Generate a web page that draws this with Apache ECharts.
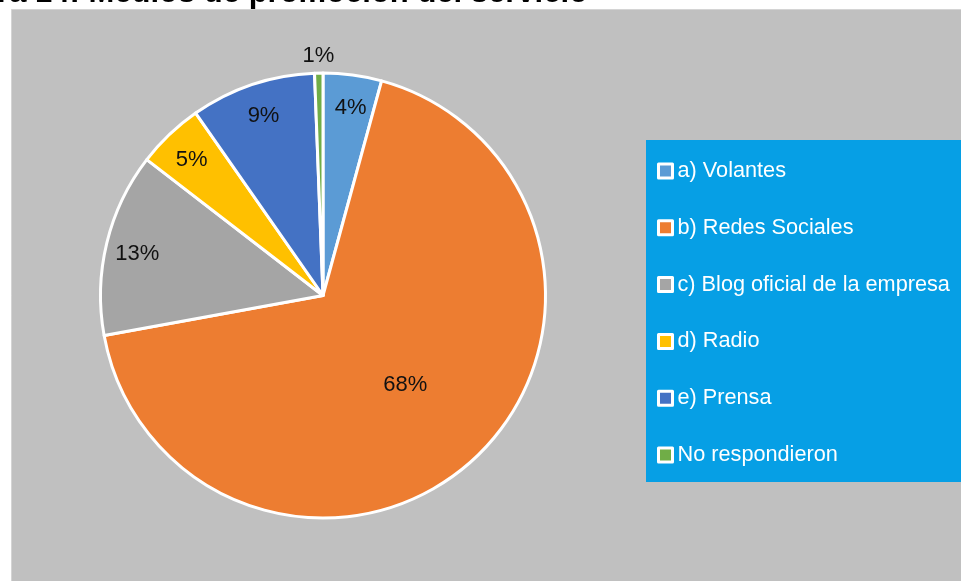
<!DOCTYPE html>
<html>
<head>
<meta charset="utf-8">
<title>Medios de promoción del servicio</title>
<script src="https://cdn.jsdelivr.net/npm/echarts@6/dist/echarts.min.js"></script>
<style>
  html, body { margin: 0; padding: 0; background: #ffffff; }
  #chart { width: 961px; height: 581px; }
</style>
</head>
<body>
<div id="chart"></div>
<script>
// Respuestas por medio de promoción (número de encuestados)
const categories = [
  'a) Volantes',
  'b) Redes Sociales',
  'c) Blog oficial de la empresa',
  'd) Radio',
  'e) Prensa',
  'No respondieron'
];
const responses = [7, 112, 22, 8, 15, 1];
const sliceColors = ['#5b9bd5', '#ed7d31', '#a5a5a5', '#ffc000', '#4472c4', '#70ad47'];
const titleText = 'Figura 14: Medios de promoción del servicio';

const FONT = "'Liberation Sans', Arial, sans-serif";
const CENTER = [323, 295.5];
const R = 222.5;

const pieData = categories.map((name, i) => ({ name, value: responses[i] }));

// Transparent ring that only carries percentage labels at its mid radius
function labelRing(inner, outer, keep, nudge) {
  return {
    type: 'pie',
    silent: true,
    center: CENTER,
    radius: [inner, outer],
    startAngle: 90,
    percentPrecision: 0,
    avoidLabelOverlap: false,
    itemStyle: { color: 'transparent', borderWidth: 0 },
    label: {
      show: true,
      position: 'inside',
      color: '#111',
      fontFamily: FONT,
      fontSize: 22,
      formatter: p => (keep(p.percent) ? p.percent + '%' : '')
    },
    labelLayout: nudge || null,
    labelLine: { show: false },
    emphasis: { disabled: true },
    data: pieData
  };
}

const chart = echarts.init(document.getElementById('chart'), null, { renderer: 'canvas' });

chart.setOption({
  animation: false,
  color: sliceColors,
  graphic: [
    {
      type: 'rect',
      z: -10,
      shape: { x: 11.5, y: 9.5, width: 960, height: 580 },
      style: { fill: '#c0c0c0', stroke: '#d4d4d4', lineWidth: 1 }
    },
    {
      type: 'text',
      z: 10,
      x: 588,
      y: -7,
      style: {
        text: titleText,
        fill: '#000',
        font: "bold 31px 'Liberation Sans', Arial, sans-serif",
        align: 'right',
        verticalAlign: 'middle'
      }
    }
  ],
  legend: {
    orient: 'vertical',
    left: 646,
    top: 140,
    padding: [20, 24, 16, 11],
    itemGap: 34.8,
    itemWidth: 14,
    itemHeight: 14,
    icon: 'rect',
    backgroundColor: '#069fe5',
    itemStyle: { borderColor: '#ffffff', borderWidth: 3 },
    textStyle: { color: '#ffffff', fontFamily: FONT, fontSize: 21.7 },
    data: categories
  },
  series: [
    {
      type: 'pie',
      center: CENTER,
      radius: [0, R],
      startAngle: 90,
      clockwise: true,
      avoidLabelOverlap: false,
      itemStyle: { borderColor: '#ffffff', borderWidth: 3 },
      label: { show: false },
      labelLine: { show: false },
      emphasis: { disabled: true },
      data: pieData
    },
    labelRing(15, R, p => p >= 50),
    labelRing(158, R, p => p >= 2 && p < 50, { dx: 2, dy: 4 }),
    labelRing(R, R + 28, p => p < 2)
  ]
});
</script>
</body>
</html>
